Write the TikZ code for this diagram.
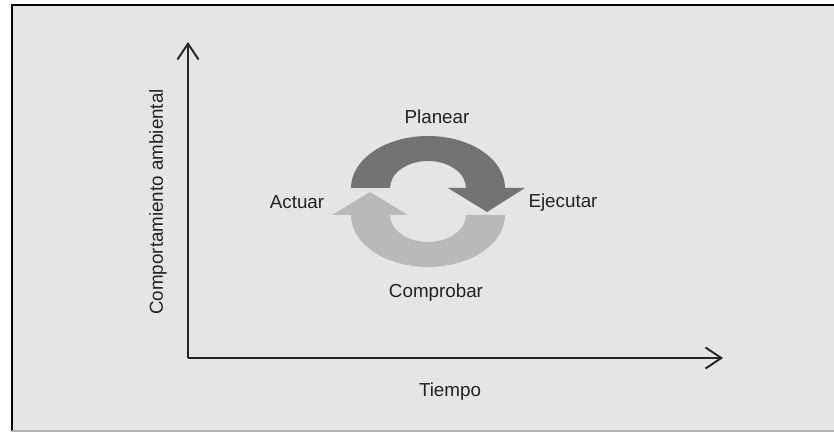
\documentclass[tikz,border=0pt]{standalone}
\usepackage{fontspec}
\setmainfont{Liberation Sans}
\usepackage{xcolor}
\usepackage{tikz}
\usetikzlibrary{arrows.meta, positioning}
\definecolor{panelgray}{HTML}{E5E5E5}
\definecolor{darkarrow}{HTML}{737373}
\definecolor{lightarrow}{HTML}{B9B9B9}
\definecolor{labelgray}{HTML}{222222}

\begin{document}
\begin{tikzpicture}[x=0.02cm, y=0.02cm,
    axis/.style={line width=1.1pt, black!85, -{Straight Barb[length=9pt, width=12pt, line width=1.1pt]}},
    lbl/.style={font=\fontsize{10.7}{12}\selectfont, text=labelgray, inner sep=1pt}]
  \useasboundingbox (0,0) rectangle (834,432);
  % panel
  \fill[white] (0,0) rectangle (834,432);
  \fill[panelgray] (12,1) rectangle (834,427);
  \draw[black, line width=1.2pt] (12,1) -- (12,427) -- (834,427);
  \draw[black!30, line width=0.8pt] (12,1) -- (834,1);
  % axes
  \coordinate (origin) at (188,74);
  \coordinate (ytip) at (188,390);
  \coordinate (xtip) at (723,74);
  \draw[axis] (origin) -- (ytip);
  \draw[axis] (origin) -- (xtip);
  \node[lbl, rotate=90] (ylabel) at (158,230) {Comportamiento ambiental};
  \node[lbl] (xlabel) at (450,40) {Tiempo};
  % cycle: upper band (dark) and lower band (light)
  \coordinate (topc) at (428,244);
  \coordinate (botc) at (428,217);
  \fill[darkarrow] (351,244) arc[start angle=180, end angle=0, x radius=77, y radius=52]
    -- (525,244) -- (487,220) -- (448,244) -- (466,244)
    arc[start angle=0, end angle=180, x radius=38, y radius=27] -- cycle;
  \fill[lightarrow] (505,217) arc[start angle=0, end angle=-180, x radius=77, y radius=52]
    -- (332,217) -- (370,240) -- (408,217) -- (390,217)
    arc[start angle=180, end angle=360, x radius=38, y radius=27] -- cycle;
  \node[lbl] (planear) at (437,315) {Planear};
  \node[lbl] (ejecutar) at (563,229) {Ejecutar};
  \node[lbl] (actuar) at (297,230) {Actuar};
  \node[lbl] (comprobar) at (436,139) {Comprobar};
\end{tikzpicture}
\end{document}
